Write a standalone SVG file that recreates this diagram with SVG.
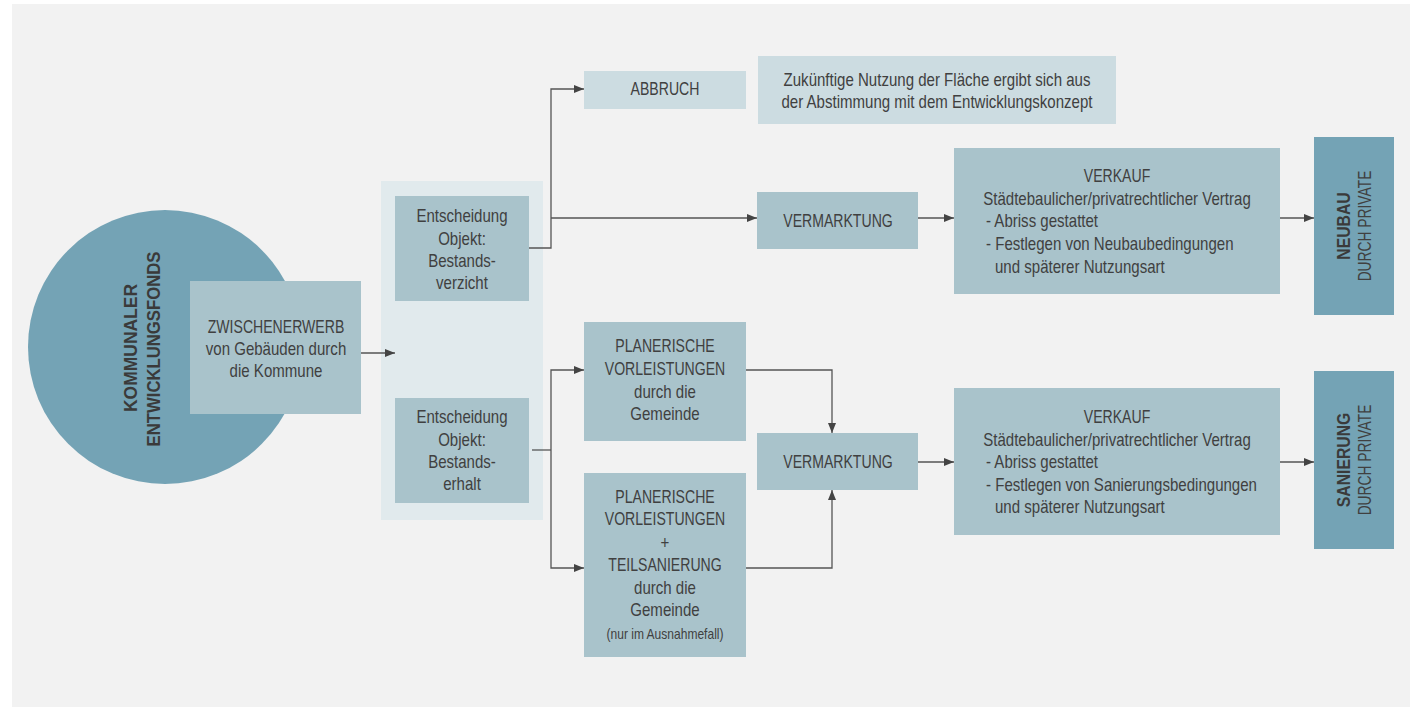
<svg xmlns="http://www.w3.org/2000/svg" width="1413" height="707" viewBox="0 0 1413 707">
<defs>
<style>
.t{font-family:"Liberation Sans",Arial,sans-serif;font-size:17.5px;fill:#404040;text-anchor:middle}
.l{text-anchor:start}
.b{font-weight:bold;font-size:19px;fill:#3a3a3a}
.s{font-size:14px}
.mid{fill:#a9c3cb}
.lt{fill:#ccdce1}
.dk{fill:#74a3b5}
.c{fill:none;stroke:#555;stroke-width:1.3}
.a{marker-end:url(#ah)}
</style>
<marker id="ah" markerUnits="userSpaceOnUse" markerWidth="10" markerHeight="8" refX="10" refY="4" orient="auto">
<path d="M0,0 L10,4 L0,8 z" fill="#444"/>
</marker>
</defs>
<rect x="0" y="0" width="1413" height="707" fill="#ffffff"/>
<rect x="12" y="4" width="1398" height="703" fill="#f2f2f2"/>

<g id="fonds">
<circle cx="165" cy="347" r="137" class="dk"/>
<text class="t b" transform="translate(137,348) rotate(-90) scale(0.92,1)">KOMMUNALER</text>
<text class="t b" transform="translate(160,349) rotate(-90) scale(0.88,1)">ENTWICKLUNGSFONDS</text>
</g>

<g id="zwischenerwerb">
<rect x="190" y="281" width="171" height="133" class="mid"/>
<text class="t" transform="translate(276,333) scale(0.805,1)">ZWISCHENERWERB</text>
<text class="t" transform="translate(276,355) scale(0.86,1)">von Gebäuden durch</text>
<text class="t" transform="translate(276,377) scale(0.86,1)">die Kommune</text>
</g>

<g id="entscheidung-panel">
<rect x="381" y="181" width="162" height="339" fill="#e1eaed"/>
</g>

<g id="entscheidung-verzicht">
<rect x="395" y="196" width="134" height="105" class="mid"/>
<text class="t" transform="translate(462,222) scale(0.86,1)">Entscheidung</text>
<text class="t" transform="translate(462,245) scale(0.86,1)">Objekt:</text>
<text class="t" transform="translate(462,267) scale(0.86,1)">Bestands-</text>
<text class="t" transform="translate(462,289) scale(0.86,1)">verzicht</text>
</g>

<g id="entscheidung-erhalt">
<rect x="395" y="398" width="134" height="105" class="mid"/>
<text class="t" transform="translate(462,423) scale(0.86,1)">Entscheidung</text>
<text class="t" transform="translate(462,446) scale(0.86,1)">Objekt:</text>
<text class="t" transform="translate(462,468) scale(0.86,1)">Bestands-</text>
<text class="t" transform="translate(462,490) scale(0.86,1)">erhalt</text>
</g>

<g id="abbruch">
<rect x="584" y="71" width="162" height="38" class="lt"/>
<text class="t" transform="translate(665,95) scale(0.805,1)">ABBRUCH</text>
</g>

<g id="hinweis">
<rect x="758" y="56" width="358" height="68" class="lt"/>
<text class="t" transform="translate(937,86) scale(0.86,1)">Zukünftige Nutzung der Fläche ergibt sich aus</text>
<text class="t" transform="translate(937,108) scale(0.86,1)">der Abstimmung mit dem Entwicklungskonzept</text>
</g>

<g id="vermarktung-1">
<rect x="757" y="192" width="161" height="57" class="mid"/>
<text class="t" transform="translate(838,227) scale(0.805,1)">VERMARKTUNG</text>
</g>

<g id="verkauf-1">
<rect x="954" y="148" width="326" height="146" class="mid"/>
<text class="t" transform="translate(1117,182) scale(0.805,1)">VERKAUF</text>
<text class="t" transform="translate(1117,205) scale(0.86,1)">Städtebaulicher/privatrechtlicher Vertrag</text>
<text class="t l" transform="translate(986,227) scale(0.86,1)">- Abriss gestattet</text>
<text class="t l" transform="translate(986,250) scale(0.86,1)">- Festlegen von Neubaubedingungen</text>
<text class="t l" transform="translate(995,273) scale(0.86,1)">und späterer Nutzungsart</text>
</g>

<g id="neubau">
<rect x="1314" y="137" width="80" height="178" class="dk"/>
<text class="t b" transform="translate(1350,226) rotate(-90) scale(0.83,1)">NEUBAU</text>
<text class="t" transform="translate(1371,226) rotate(-90) scale(0.79,1)">DURCH PRIVATE</text>
</g>

<g id="planerische-1">
<rect x="584" y="322" width="162" height="119" class="mid"/>
<text class="t" transform="translate(665,352) scale(0.805,1)">PLANERISCHE</text>
<text class="t" transform="translate(665,375) scale(0.805,1)">VORLEISTUNGEN</text>
<text class="t" transform="translate(665,398) scale(0.86,1)">durch die</text>
<text class="t" transform="translate(665,420) scale(0.86,1)">Gemeinde</text>
</g>

<g id="planerische-2">
<rect x="584" y="473" width="162" height="184" class="mid"/>
<text class="t" transform="translate(665,503) scale(0.805,1)">PLANERISCHE</text>
<text class="t" transform="translate(665,525) scale(0.805,1)">VORLEISTUNGEN</text>
<text class="t" transform="translate(665,549) scale(0.86,1)">+</text>
<text class="t" transform="translate(665,571) scale(0.805,1)">TEILSANIERUNG</text>
<text class="t" transform="translate(665,594) scale(0.86,1)">durch die</text>
<text class="t" transform="translate(665,616) scale(0.86,1)">Gemeinde</text>
<text class="t s" transform="translate(665,639) scale(0.86,1)">(nur im Ausnahmefall)</text>
</g>

<g id="vermarktung-2">
<rect x="757" y="433" width="161" height="57" class="mid"/>
<text class="t" transform="translate(838,468) scale(0.805,1)">VERMARKTUNG</text>
</g>

<g id="verkauf-2">
<rect x="954" y="388" width="326" height="147" class="mid"/>
<text class="t" transform="translate(1117,423) scale(0.805,1)">VERKAUF</text>
<text class="t" transform="translate(1117,446) scale(0.86,1)">Städtebaulicher/privatrechtlicher Vertrag</text>
<text class="t l" transform="translate(986,468) scale(0.86,1)">- Abriss gestattet</text>
<text class="t l" transform="translate(986,491) scale(0.86,1)">- Festlegen von Sanierungsbedingungen</text>
<text class="t l" transform="translate(995,513) scale(0.86,1)">und späterer Nutzungsart</text>
</g>

<g id="sanierung">
<rect x="1314" y="371" width="80" height="178" class="dk"/>
<text class="t b" transform="translate(1350,460) rotate(-90) scale(0.83,1)">SANIERUNG</text>
<text class="t" transform="translate(1371,460) rotate(-90) scale(0.79,1)">DURCH PRIVATE</text>
</g>

<g id="connectors">
<path class="c a" d="M361,353 H395"/>
<path class="c a" d="M529,248 H551 V89 H584"/>
<path class="c a" d="M551,218 H757"/>
<path class="c a" d="M918,218 H954"/>
<path class="c a" d="M1280,218 H1314"/>
<path class="c" d="M532,450 H551"/>
<path class="c a" d="M551,450 V370 H584"/>
<path class="c a" d="M551,450 V568 H584"/>
<path class="c a" d="M746,370 H832 V433"/>
<path class="c a" d="M746,568 H832 V490"/>
<path class="c a" d="M918,462 H954"/>
<path class="c a" d="M1280,462 H1314"/>
</g>
</svg>
